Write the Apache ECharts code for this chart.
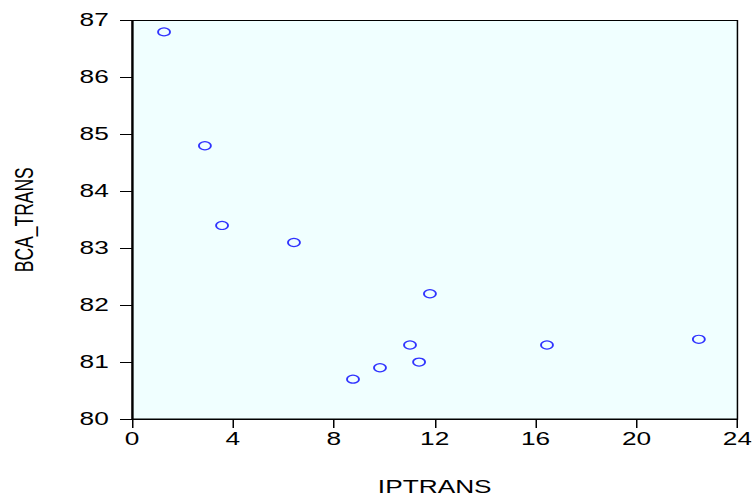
<!DOCTYPE html>
<html>
<head>
<meta charset="utf-8">
<script src="https://cdn.jsdelivr.net/npm/echarts@6/dist/echarts.min.js"></script>
<style>
html,body{margin:0;padding:0;background:#fff;overflow:hidden;width:752px;height:497px;}
#wrap{width:752px;height:497px;overflow:hidden;position:relative;}
#c{position:absolute;left:0;top:0;width:501.33px;height:497px;transform:scaleX(1.5);transform-origin:0 0;}
</style>
</head>
<body>
<div id="wrap"><div id="c"></div></div>
<script>
var iptrans = [1.27, 2.89, 3.57, 6.42, 11.81, 11.02, 11.38, 9.83, 8.76, 16.45, 22.47];
var bcaTrans = [86.8, 84.8, 83.4, 83.1, 82.2, 81.3, 81.0, 80.9, 80.7, 81.3, 81.4];
var xName = 'IPTRANS';
var yName = 'BCA_TRANS';

var points = iptrans.map(function (x, i) { return [x, bcaTrans[i]]; });
var font = 'Liberation Sans, Arial, sans-serif';

var chart = echarts.init(document.getElementById('c'), null, {renderer: 'svg', width: 501.33, height: 497});
chart.setOption({
  animation: false,
  backgroundColor: '#ffffff',
  grid: {
    left: 88, top: 20.5, right: 9.7, bottom: 78,
    containLabel: false, outerBoundsMode: 'none',
    show: true, backgroundColor: '#f0ffff', borderColor: '#000', borderWidth: 1
  },
  xAxis: {
    type: 'value', min: 0, max: 24, interval: 4,
    name: xName, nameLocation: 'middle', nameGap: 59,
    nameTextStyle: {fontFamily: font, fontSize: 17.5, color: '#000'},
    axisLine: {show: true, lineStyle: {color: '#000', width: 1}},
    axisTick: {show: true, length: 9, lineStyle: {color: '#000'}},
    axisLabel: {fontFamily: font, fontSize: 17.5, color: '#000', margin: 11},
    splitLine: {show: false}
  },
  yAxis: {
    type: 'value', min: 80, max: 87, interval: 1,
    name: yName, nameLocation: 'middle', nameGap: 63,
    nameTextStyle: {fontFamily: font, fontSize: 17.5, color: '#000'},
    axisLine: {show: true, lineStyle: {color: '#000', width: 1.2}},
    axisTick: {show: true, length: 8, lineStyle: {color: '#000'}},
    axisLabel: {fontFamily: font, fontSize: 17.5, color: '#000', margin: 15.5, padding: [0, 0, 8, 0]},
    splitLine: {show: false}
  },
  series: [{
    type: 'scatter',
    data: points,
    symbol: 'circle',
    symbolSize: 8,
    itemStyle: {color: 'rgba(0,0,0,0)', borderColor: '#0000ff', borderWidth: 1.2}
  }]
});
</script>
</body>
</html>
